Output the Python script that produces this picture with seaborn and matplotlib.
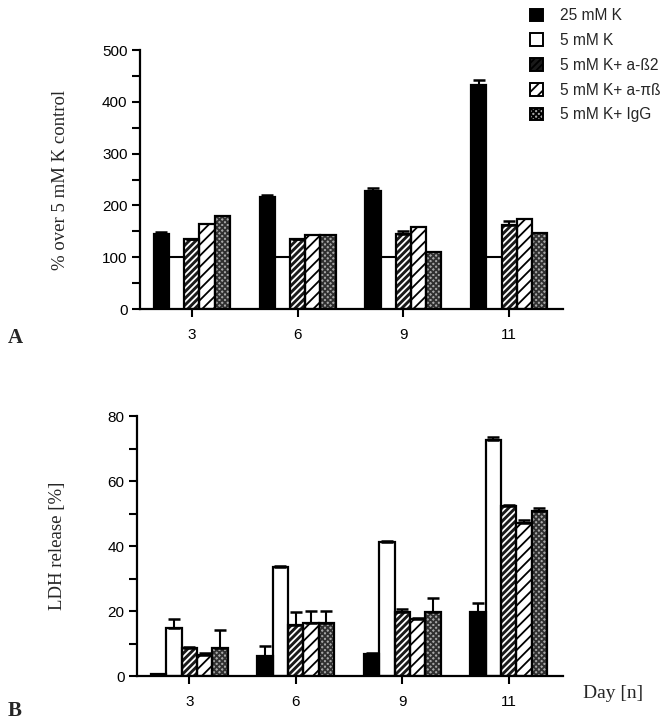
import numpy as np
import pandas as pd
import matplotlib
matplotlib.use("Agg")
import matplotlib.pyplot as plt
from matplotlib.patches import Patch, Rectangle
from matplotlib.ticker import MultipleLocator
import seaborn as sns

days = ["3", "6", "9", "11"]
conditions = ["25 mM K", "5 mM K", "5 mM K+ a-\u00df2", "5 mM K+ a-\u03c0\u00df", "5 mM K+ IgG"]

# panel A: % over 5 mM K control
a_25k = [144, 216, 228, 432]
a_5k = [100, 100, 100, 100]
a_b2 = [135, 135, 144, 162]
a_pib = [165, 143, 158, 174]
a_igg = [180, 143, 110, 146]
a_25k_err = [4, 5, 6, 10]
a_b2_err = [1, 1, 7, 8]

# panel B: LDH release [%]
b_25k = [0.6, 6.2, 6.8, 19.6]
b_5k = [14.7, 33.5, 41.1, 72.6]
b_b2 = [8.6, 15.7, 19.8, 52.2]
b_pib = [6.6, 16.2, 17.4, 47.0]
b_igg = [8.7, 16.3, 19.6, 50.8]
b_25k_err = [0.0, 3.0, 0.4, 3.0]
b_5k_err = [2.8, 0.4, 0.4, 1.0]
b_b2_err = [0.3, 3.9, 0.8, 0.3]
b_pib_err = [0.5, 3.8, 0.4, 1.0]
b_igg_err = [5.5, 3.7, 4.4, 0.8]

# face, hatch, hatch colour per condition
styles = [
    ("black", None, "black"),
    ("white", None, "black"),
    ("#1a1a1a", "/////", "white"),
    ("white", "///", "black"),
    ("#a8a8a8", "xxxxxx", "#303030"),
]

sans = ["Liberation Sans", "DejaVu Sans"]
serif = ["Liberation Serif", "DejaVu Serif"]


def long_table(series):
    rows = []
    for cond, vals in zip(conditions, series):
        for d, v in zip(days, vals):
            rows.append({"day": d, "cond": cond, "value": v})
    return pd.DataFrame(rows)


def draw_panel(ax, series, errs, line_only_5k):
    df = long_table(series)
    sns.barplot(data=df, x="day", y="value", hue="cond", order=days,
                hue_order=conditions, errorbar=None, width=0.72,
                legend=False, ax=ax)
    bars = list(ax.patches)
    n = len(days)
    for k, (face, hatch, hcol) in enumerate(styles):
        group = bars[k * n:(k + 1) * n]
        for j, p in enumerate(group):
            x, w, h = p.get_x(), p.get_width(), p.get_height()
            p.set_facecolor(face)
            p.set_linewidth(0)
            if hatch:
                p.set_hatch(hatch)
                p.set_edgecolor(hcol)
            else:
                p.set_edgecolor(face)
            if k == 1 and line_only_5k:
                p.set_facecolor("none")
                p.set_edgecolor("none")
                ax.plot([x, x + w], [h, h], color="black", lw=1.5, zorder=3)
            else:
                ax.add_patch(Rectangle((x, 0), w, h, fill=False,
                                       edgecolor="black", lw=1.6, zorder=3))
            e = errs[k]
            if e is not None and e[j] > 0:
                ax.errorbar(x + w / 2, h, yerr=[[0], [e[j]]], fmt="none",
                            ecolor="black", elinewidth=1.5, capsize=4,
                            capthick=1.8, zorder=4)
    ax.set_xlim(-0.49, 3.51)
    ax.set_xlabel("")
    for s in ["top", "right"]:
        ax.spines[s].set_visible(False)
    for s in ["left", "bottom"]:
        ax.spines[s].set_linewidth(1.6)
        ax.spines[s].set_color("black")
    ax.tick_params(axis="both", which="both", direction="out", width=1.5,
                   colors="black", labelsize=11, left=True, bottom=True)
    ax.tick_params(axis="both", which="major", length=6)
    ax.tick_params(axis="y", which="minor", length=6)
    ax.tick_params(axis="x", which="minor", bottom=False)
    ax.tick_params(axis="x", pad=8)
    ax.tick_params(axis="y", pad=3)


sns.set_style("white")
plt.rcParams['font.family'] = sans
plt.rcParams['hatch.linewidth'] = 1.3

fig = plt.figure(figsize=(6.68, 7.2), dpi=100)
axA = fig.add_axes([0.2096, 0.5708, 0.6334, 0.3597])
axB = fig.add_axes([0.2051, 0.0611, 0.6379, 0.3611])

draw_panel(axA, [a_25k, a_5k, a_b2, a_pib, a_igg],
           [a_25k_err, None, a_b2_err, None, None], True)
axA.set_ylim(0, 500)
axA.yaxis.set_major_locator(MultipleLocator(100))
axA.yaxis.set_minor_locator(MultipleLocator(50))
axA.set_ylabel("% over 5 mM K control", family=serif, fontsize=13.5,
               labelpad=24)

draw_panel(axB, [b_25k, b_5k, b_b2, b_pib, b_igg],
           [b_25k_err, b_5k_err, b_b2_err, b_pib_err, b_igg_err], False)
axB.set_ylim(0, 80)
axB.yaxis.set_major_locator(MultipleLocator(20))
axB.yaxis.set_minor_locator(MultipleLocator(10))
axB.set_ylabel("LDH release [%]", family=serif, fontsize=13.5, labelpad=30)

handles = []
for (face, hatch, hcol), cond in zip(styles, conditions):
    handles.append(Patch(facecolor=face, hatch=hatch, edgecolor="black",
                         linewidth=1.4, label=cond))
fig.legend(handles=handles, loc="upper left", bbox_to_anchor=(0.772, 1.008),
           frameon=False, fontsize=11.2, handlelength=0.87, handleheight=0.87,
           handletextpad=1.1, labelspacing=0.63)

fig.text(0.012, 0.531, "A", family=serif, fontweight="bold", fontsize=15,
         va="center")
fig.text(0.012, 0.012, "B", family=serif, fontweight="bold", fontsize=15,
         va="center")
fig.text(0.873, 0.037, "Day [n]", family=serif, fontsize=14, va="center")

fig.savefig("out.png", dpi=100)
